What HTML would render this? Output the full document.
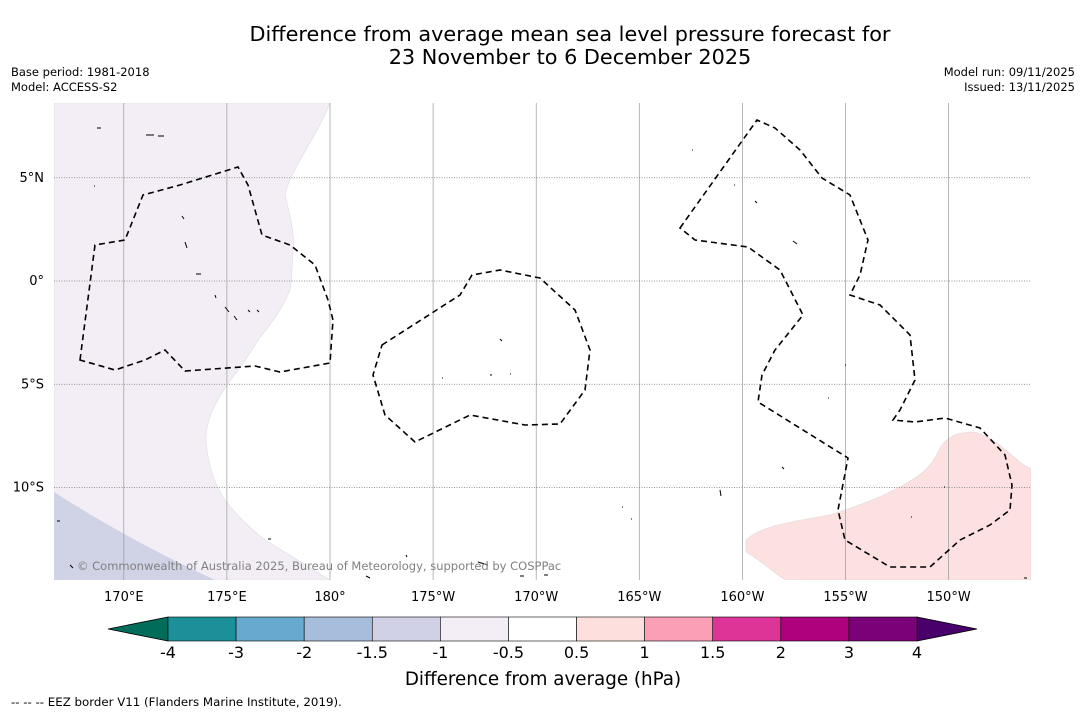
<!DOCTYPE html>
<html><head><meta charset="utf-8"><style>
html,body{margin:0;padding:0;background:#fff;}
svg{display:block;font-family:"DejaVu Sans","Liberation Sans",sans-serif;}
</style></head><body>
<svg width="1085" height="713" viewBox="0 0 1085 713">
<rect width="1085" height="713" fill="#fff"/>
<text x="570" y="41" font-size="20.8" text-anchor="middle">Difference from average mean sea level pressure forecast for</text>
<text x="570" y="64" font-size="20.8" text-anchor="middle">23 November to 6 December 2025</text>
<text x="11" y="76" font-size="11.5">Base period: 1981-2018</text>
<text x="11" y="91" font-size="11.5">Model: ACCESS-S2</text>
<text x="1075" y="76" font-size="11.5" text-anchor="end">Model run: 09/11/2025</text>
<text x="1075" y="91" font-size="11.5" text-anchor="end">Issued: 13/11/2025</text>
<defs><clipPath id="mapclip"><rect x="54" y="103" width="977" height="477"/></clipPath></defs>
<g clip-path="url(#mapclip)">
<path fill="#f3eef6" stroke="#ddd" stroke-width="0.6" d="M54,103 L330,103 C315,140 290,170 285,195 C290,215 295,235 293,250 C292,265 292,280 290,290 C280,315 265,330 255,345 C240,370 225,385 215,405 C205,425 205,440 207,450 C210,470 215,485 225,500 C240,520 255,532 265,540 C290,555 310,568 330,580 L54,580 Z"/>
<path fill="#d0d2e6" d="M54,492 C90,515 140,545 215,580 L54,580 Z"/>
<path fill="#fde0e0" stroke="#ddd" stroke-width="0.6" d="M746,540 C760,528 775,524 830,515 C860,505 885,497 915,478 C935,465 938,450 942,445 C950,435 958,432 975,432 C995,438 1005,450 1020,462 C1026,466 1028,468 1031,468 L1031,580 L785,580 C770,570 760,560 746,552 Z"/>
<g id="grid"></g>
<g fill="none" stroke="#000" stroke-width="1.6" stroke-dasharray="6,4">
<path d="M80,360 L95,245 L125,240 L143,195 L180,185 L238,167 L248,185 L262,235 L290,245 L315,265 L328,300 L333,320 L330,363 L280,372 L255,366 L185,371 L165,350 L145,360 L115,370 Z"/>
<path d="M382,345 L460,295 L472,275 L500,270 L540,278 L575,310 L590,350 L585,390 L560,424 L525,425 L470,415 L415,442 L385,415 L373,375 Z"/>
<path d="M680,228 L757,120 L775,128 L800,150 L822,178 L850,195 L868,240 L860,275 L850,295 L880,305 L910,335 L915,380 L900,410 L893,420 L915,422 L945,418 L980,428 L1005,455 L1012,485 L1010,510 L990,525 L960,540 L930,567 L890,567 L845,540 L838,510 L848,458 L758,402 L762,375 L775,350 L803,315 L780,270 L748,247 L695,240 Z"/>
</g>
<g fill="none" stroke="#000" stroke-width="1">
<path d="M146,135 h8 M158,136 h6 M182,216 l2,3 M185,242 l2,6 M196,274 h5 M215,295 l1,3 M225,307 l4,5 M234,316 l3,4 M500,339 l2,2 M490,375 h2 M755,201 l2,2 M793,241 l4,3 M782,467 l2,2 M720,490 l1,6 M478,562 l10,3 M57,521 h3 M70,565 l3,3 M1024,578 h3 M97,128 h4 M94,186 h1 M268,539 h3 M520,576 h4 M544,575 h4 M406,555 l1,2 M366,576 l4,2 M248,310 l2,2 M257,310 l2,2 M442,378 h1 M510,374 h1 M692,150 h1 M734,185 h1 M845,365 h1 M828,398 h1 M944,487 h1 M911,517 h1 M622,507 h1 M631,519 h1"/>
</g>
<text x="77" y="570" font-size="11.5" fill="#808080">© Commonwealth of Australia 2025, Bureau of Meteorology, supported by COSPPac</text>
</g>
<g id="axislabels" font-size="13"></g>
<g id="cbar"></g>
<text x="543" y="685" font-size="18.3" text-anchor="middle">Difference from average (hPa)</text>
<text x="11" y="706" font-size="11.8">--  --  -- EEZ border V11 (Flanders Marine Institute, 2019).</text>
</svg>
<script>
const lonTicks=[170,175,180,185,190,195,200,205,210];
const lonLabels=["170°E","175°E","180°","175°W","170°W","165°W","160°W","155°W","150°W"];
const latTicks=[5,0,-5,-10];
const latLabels=["5°N","0°","5°S","10°S"];
const cbarLevels=["-4","-3","-2","-1.5","-1","-0.5","0.5","1","1.5","2","3","4"];
const cbarColors=["#1c9099","#67a9cf","#a6bddb","#d0d1e6","#f3eef6","#ffffff","#fde0dd","#fa9fb5","#dd3497","#ae017e","#7a0177"];
const cbarLow="#016c59", cbarHigh="#49006a";
const NS="http://www.w3.org/2000/svg";
const lonX=l=>330+(l-180)*20.62;
const latY=l=>281-l*20.65;
const mk=(t,a)=>{const e=document.createElementNS(NS,t);for(const k in a)e.setAttribute(k,a[k]);return e;};
const grid=document.getElementById('grid'), ax=document.getElementById('axislabels');
lonTicks.forEach((l,i)=>{
 const ln=mk('line',{x1:lonX(l),x2:lonX(l),y1:103,y2:580,stroke:'#999','stroke-width':0.7});
 
 
 grid.appendChild(ln);
 const t=mk('text',{x:lonX(l),y:601,'text-anchor':'middle'});t.textContent=lonLabels[i];
 
 
 ax.appendChild(t);
});
latTicks.forEach((l,i)=>{
 const ln=mk('line',{x1:54,x2:1031,y1:latY(l),y2:latY(l),stroke:'#777','stroke-width':0.7,'stroke-dasharray':'1,1.5'});
 
 
 grid.appendChild(ln);
 const t=mk('text',{x:44,y:latY(l)+4,'text-anchor':'end'});t.textContent=latLabels[i];
 
 
 ax.appendChild(t);
});
const cb=document.getElementById('cbar');
const x0=168,x1=917,y0=617,h=24,n=cbarColors.length,w=(x1-x0)/n;
const lo=mk('polygon',{points:`${x0},${y0} 108,${y0+h/2} ${x0},${y0+h}`,fill:cbarLow,stroke:'#000','stroke-width':0.8});


cb.appendChild(lo);
const hi=mk('polygon',{points:`${x1},${y0} 977,${y0+h/2} ${x1},${y0+h}`,fill:cbarHigh,stroke:'#000','stroke-width':0.8});


cb.appendChild(hi);
cbarColors.forEach((c,i)=>{
 const r=mk('rect',{x:x0+i*w,y:y0,width:w,height:h,fill:c,stroke:'#000','stroke-width':0.6});
 
 
 cb.appendChild(r);
});
cbarLevels.forEach((v,i)=>{
 const t=mk('text',{x:x0+i*w,y:658,'text-anchor':'middle','font-size':16});t.textContent=v;
 
 
 cb.appendChild(t);
});
</script>
</body></html>
